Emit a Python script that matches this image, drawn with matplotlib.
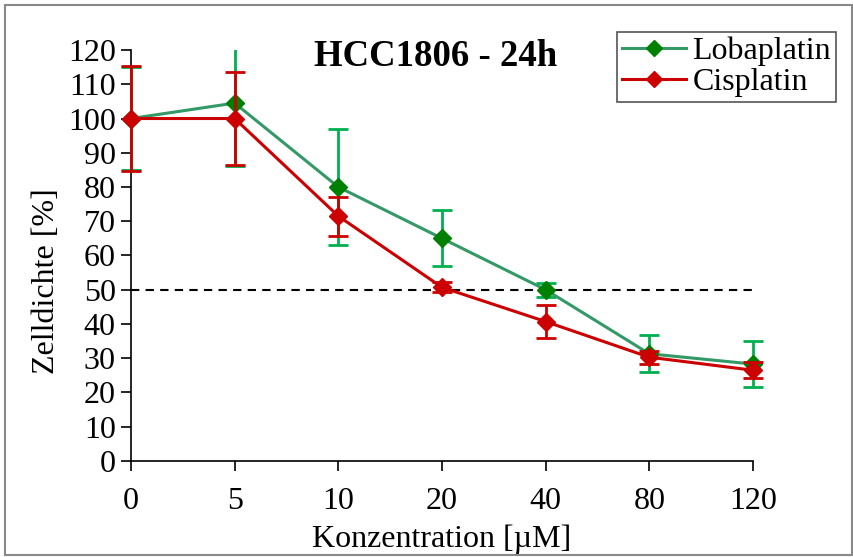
import matplotlib.pyplot as plt
from matplotlib.lines import Line2D
from matplotlib.patches import Rectangle

# Data
concentrations = ["0", "5", "10", "20", "40", "80", "120"]
lobaplatin = [100, 104.5, 80, 65, 50, 31.3, 28.3]
lobaplatin_err = [15, 18.3, 17, 8.2, 2, 5.4, 6.6]
cisplatin = [100, 100, 71.5, 50.7, 40.7, 30.3, 26.5]
cisplatin_err = [15.3, 13.5, 5.7, 1.5, 4.8, 1.9, 2.3]
threshold = 50

green_line = '#339966'
green_err = '#00B050'
green_marker = '#008000'
red = '#CC0000'

plt.rcParams['font.family'] = ['Liberation Serif', 'DejaVu Serif']

fig = plt.figure(figsize=(8.54, 5.57), dpi=100)
ax = fig.add_axes([0.1534, 0.1724, 0.8817 - 0.1534, 0.9102 - 0.1724])

x = list(range(len(concentrations)))

# dashed 50% line
ax.plot([x[0], x[-1]], [threshold, threshold], color='black', linestyle=(0, (4, 3)),
        linewidth=1.5, zorder=1)

# error bars: clip only at the top/bottom of the plot, not at the sides
clip_rect = Rectangle((-0.1, 0), 1.2, 1, transform=ax.transAxes, visible=False)
ax.add_patch(clip_rect)


def draw_series(values, errs, line_color, err_color, marker_color, label, z):
    cont = ax.errorbar(x, values, yerr=errs, fmt='none', ecolor=err_color,
                       elinewidth=2, capsize=7, capthick=2, zorder=z)
    for art in list(cont.lines[1]) + list(cont.lines[2]):
        art.set_clip_path(clip_rect)
    ax.plot(x, values, color=line_color, linewidth=2.2, marker='D', markersize=9,
            markerfacecolor=marker_color, markeredgecolor=marker_color,
            label=label, zorder=z + 1, clip_on=False)


draw_series(lobaplatin, lobaplatin_err, green_line, green_err, green_marker, 'Lobaplatin', 3)
draw_series(cisplatin, cisplatin_err, red, red, red, 'Cisplatin', 5)

ax.set_xlim(0, len(concentrations) - 1)
ax.set_ylim(0, 120)
ax.set_xticks(x)
ax.set_xticklabels(concentrations)
ax.set_yticks(range(0, 121, 10))

for side in ['top', 'right']:
    ax.spines[side].set_visible(False)
for side in ['left', 'bottom']:
    ax.spines[side].set_linewidth(1.2)
ax.tick_params(axis='both', direction='out', length=7, width=1.2, labelsize=23)
ax.tick_params(axis='x', pad=12)
ax.tick_params(axis='y', pad=4)

ax.set_xlabel('Konzentration [µM]', fontsize=23, labelpad=6)
ax.set_ylabel('Zelldichte [%]', fontsize=23)
ax.yaxis.set_label_coords(-0.112, 0.438)
ax.text(0.49, 1.028, 'HCC1806 - 24h', transform=ax.transAxes, ha='center', va='top',
        fontsize=26.5, fontweight='bold')

handles = [Line2D([], [], color=green_line, linewidth=2.2, marker='D', markersize=8,
                  markerfacecolor=green_marker, markeredgecolor=green_marker),
           Line2D([], [], color=red, linewidth=2.2, marker='D', markersize=8,
                  markerfacecolor=red, markeredgecolor=red)]
leg = ax.legend(handles, ['Lobaplatin', 'Cisplatin'], loc='upper right',
                bbox_to_anchor=(1.133, 1.045), fontsize=23,
                fancybox=False, edgecolor='#555555', framealpha=1,
                handlelength=2.0, handletextpad=0.2, borderpad=0.15,
                labelspacing=0.05, borderaxespad=0)
leg.get_frame().set_linewidth(1.2)

# thin frame around the whole figure
fig.patches.append(Rectangle((0.006, 0.004), 0.992, 0.987, transform=fig.transFigure,
                             fill=False, edgecolor='#888888', linewidth=1.5))

fig.savefig('out.png', dpi=100)
